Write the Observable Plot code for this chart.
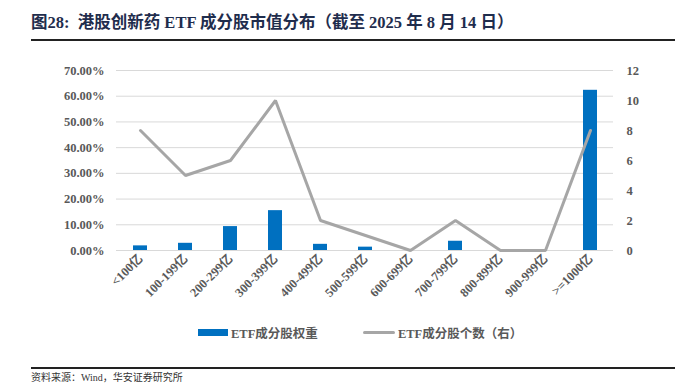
<!DOCTYPE html>
<html><head><meta charset="utf-8">
<script src="https://cdn.jsdelivr.net/npm/d3@7"></script>
<script src="https://cdn.jsdelivr.net/npm/@observablehq/plot@0.6"></script>
<style>
html,body{margin:0;padding:0;background:#fff;width:683px;height:387px;overflow:hidden;position:relative;}
.serif{font-family:"Liberation Serif","Times New Roman","Noto Sans CJK SC",serif;}
#title{position:absolute;left:31px;top:9px;font-size:16.5px;font-weight:bold;color:#1f2d4d;white-space:nowrap;}
.hr{position:absolute;left:31px;width:644px;height:2px;background:#222;}
#chart{position:absolute;left:0;top:45px;}
#legend{position:absolute;top:323px;left:198px;font-size:12.5px;font-weight:bold;color:#595959;white-space:nowrap;}
#legend span{display:inline-block;vertical-align:middle;}
#source{position:absolute;left:31px;top:372px;font-size:10px;line-height:12px;color:#333;white-space:nowrap;}
</style></head>
<body>
<div id="title" class="serif">图28:&nbsp; 港股创新药 ETF 成分股市值分布（截至 2025 年 8 月 14 日）</div>
<div class="hr" style="top:39px"></div>
<div id="chart"></div>
<div id="legend" class="serif">
  <span style="width:30px;height:7px;background:#0070c0;"></span><span style="margin-left:3px">ETF成分股权重</span>
  <span style="width:32px;height:3px;background:#a6a6a6;margin-left:42px;border-radius:2px;"></span><span style="margin-left:3px">ETF成分股个数（右）</span>
</div>
<div class="hr" style="top:367px"></div>
<div id="source" class="serif">资料来源：Wind，华安证券研究所</div>
<script>
const categories = ["<100亿","100-199亿","200-299亿","300-399亿","400-499亿","500-599亿","600-699亿","700-799亿","800-899亿","900-999亿",">=1000亿"];
const weights = [0.018,0.028,0.093,0.155,0.024,0.013,0,0.036,0,0,0.623];
const counts = [8,5,6,10,2,1,0,2,0,0,8];
const leftTicks = [0,0.1,0.2,0.3,0.4,0.5,0.6,0.7];
const rightTicks = [0,2,4,6,8,10,12];

const LMAX = 0.7, RMAX = 12;
const toLeft = v => v * LMAX / RMAX;
const data = categories.map((c,i)=>({cat:c, w:weights[i], n:counts[i]}));

const fontFam = '"Liberation Serif","Times New Roman","Noto Sans CJK SC",serif';
const chart = Plot.plot({
  width: 683,
  height: 270,
  marginLeft: 116,
  marginRight: 70,
  marginTop: 25,
  marginBottom: 65,
  style: {fontFamily: fontFam, fontSize: "12.5px", fontWeight: "bold", color: "#595959", background: "#fff"},
  x: {domain: categories, paddingInner: 0.69, paddingOuter: 0.345, label: null},
  y: {domain: [0, LMAX], label: null},
  marks: [
    Plot.gridY(leftTicks, {stroke: "#d9d9d9", strokeOpacity: 1, strokeWidth: 1}),
    Plot.barY(data, {x: "cat", y: "w", fill: "#0070c0"}),
    Plot.lineY(data, {x: "cat", y: d => toLeft(d.n), stroke: "#a6a6a6", strokeWidth: 3, strokeLinejoin: "miter"}),
    Plot.axisY(leftTicks, {anchor: "left", tickSize: 0, tickPadding: 12, tickFormat: d3.format(".2%"), label: null}),
    Plot.axisY(rightTicks.map(toLeft), {anchor: "right", tickSize: 0, tickPadding: 13, tickFormat: v => String(Math.round(v * RMAX / LMAX)), label: null}),
    Plot.axisX({tickSize: 0, tickRotate: -45, tickPadding: 6, label: null})
  ]
});
document.getElementById("chart").appendChild(chart);
</script>
</body></html>
